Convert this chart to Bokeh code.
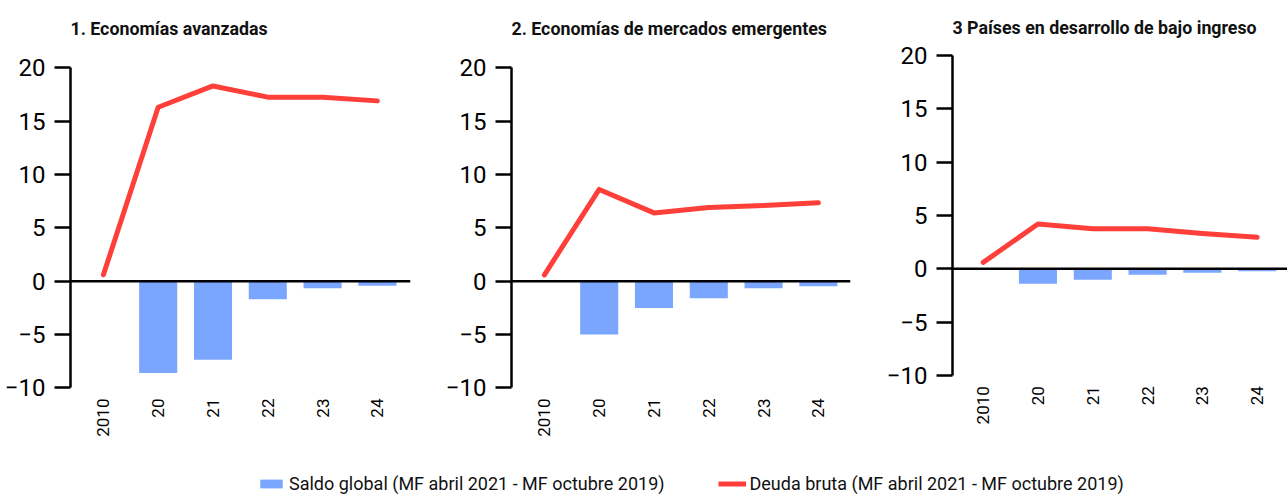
import math
from bokeh.plotting import figure
from bokeh.layouts import column, row
from bokeh.models import Range1d, FixedTicker, Span, Label, Legend, LegendItem
from bokeh.core.properties import value
from bokeh.embed import file_html
from bokeh.resources import INLINE

# ---- data ----
years = ["2010", "20", "21", "22", "23", "24"]

titles = ["1. Economías avanzadas",
          "2. Economías de mercados emergentes",
          "3 Países en desarrollo de bajo ingreso"]

deuda_ae = [0.6, 16.3, 18.3, 17.25, 17.25, 16.9]
saldo_ae = [0.0, -8.6, -7.37, -1.69, -0.66, -0.43]

deuda_em = [0.6, 8.6, 6.4, 6.9, 7.1, 7.35]
saldo_em = [0.0, -5.0, -2.5, -1.6, -0.65, -0.47]

deuda_lic = [0.6, 4.2, 3.75, 3.75, 3.3, 2.95]
saldo_lic = [0.0, -1.4, -1.03, -0.56, -0.37, -0.22]

y_ticks = [-10, -5, 0, 5, 10, 15, 20]

legend_labels = ["Saldo global (MF abril 2021 - MF octubre 2019)",
                 "Deuda bruta (MF abril 2021 - MF octubre 2019)"]

BAR_COLOR = "#7AA6FF"
LINE_COLOR = "#FF3F3A"
FONT = "Roboto"

PX_PER_CAT = 54.8
PX_PER_UNIT = 10.67
FIG_H = 470


def make_panel(title, deuda, saldo, width, mbl, mbr, y20_px, xstart, title_y):
    frame_w = width - mbl - mbr
    xend = xstart + frame_w / PX_PER_CAT
    ytop = 20 + y20_px / PX_PER_UNIT
    ybot = ytop - FIG_H / PX_PER_UNIT
    p = figure(width=width, height=FIG_H,
               x_range=Range1d(xstart, xend), y_range=Range1d(ybot, ytop),
               output_backend="svg", toolbar_location=None,
               x_axis_location=None,
               min_border_left=mbl, min_border_right=mbr,
               min_border_top=0, min_border_bottom=0)
    p.outline_line_color = None
    p.grid.visible = False
    p.background_fill_color = "white"
    p.border_fill_color = "white"

    idx = list(range(len(years)))
    p.vbar(x=idx, top=saldo, bottom=0, width=0.695, fill_color=BAR_COLOR,
           line_color=None)
    p.add_layout(Span(location=0, dimension="width", line_color="black",
                      line_width=2.5))
    p.line(idx, deuda, line_width=5, line_color=LINE_COLOR,
           line_cap="round", line_join="round")

    # category labels under the plot, rotated
    p.text(x=idx, y=[-11.0] * len(idx), text=years, angle=math.pi / 2,
           text_align="right", text_baseline="middle",
           text_font=value(FONT), text_font_size="17px", text_color="black")

    ya = p.yaxis[0]
    ya.bounds = (-10, 20)
    ya.ticker = FixedTicker(ticks=y_ticks)
    ya.major_tick_out = 16
    ya.major_tick_in = 0
    ya.minor_tick_line_color = None
    ya.axis_line_width = 2.5
    ya.major_tick_line_width = 2.5
    ya.axis_line_color = "black"
    ya.major_tick_line_color = "black"
    ya.major_label_text_font = FONT
    ya.major_label_text_font_size = "24px"
    ya.major_label_text_color = "black"
    ya.major_label_standoff = 9

    p.add_layout(Label(x=xstart, y=title_y, text=title, text_font=FONT,
                       text_font_style="bold", text_font_size="17.8px",
                       text_color="#111111", text_align="left",
                       text_baseline="alphabetic"))
    return p


p1 = make_panel(titles[0], deuda_ae, saldo_ae, 415, 70, 5, 67.3, -0.6, 23.68)
p2 = make_panel(titles[1], deuda_em, saldo_em, 440, 96, 5, 67.3, -0.6, 23.68)
p3 = make_panel(titles[2], deuda_lic, saldo_lic, 432, 97, 0, 54.9, -0.56, 22.66)

# ---- legend strip ----
lp = figure(width=1287, height=494 - FIG_H, x_range=Range1d(0, 1),
            y_range=Range1d(0, 1),
            output_backend="svg", toolbar_location=None,
            x_axis_type=None, y_axis_type=None,
            min_border_left=0, min_border_right=0, min_border_top=0,
            min_border_bottom=0)
lp.outline_line_color = None
lp.grid.visible = False
r_bar = lp.vbar(x=[5], top=[5], width=0.5, fill_color=BAR_COLOR, line_color=None)
r_line = lp.line(x=[5, 6], y=[5, 5], line_width=5, line_color=LINE_COLOR)
legend = Legend(items=[LegendItem(label=legend_labels[0], renderers=[r_bar]),
                       LegendItem(label=legend_labels[1], renderers=[r_line])],
                orientation="horizontal", location=(257, 0),
                label_text_font=FONT, label_text_font_size="18px",
                label_text_color="#111111",
                glyph_width=28, glyph_height=11, label_standoff=4,
                spacing=53, padding=0, margin=0,
                border_line_color=None, background_fill_alpha=0)
lp.add_layout(legend, "center")

layout = column(row(p1, p2, p3), lp)

open("out.html", "w").write(file_html(layout, INLINE))
